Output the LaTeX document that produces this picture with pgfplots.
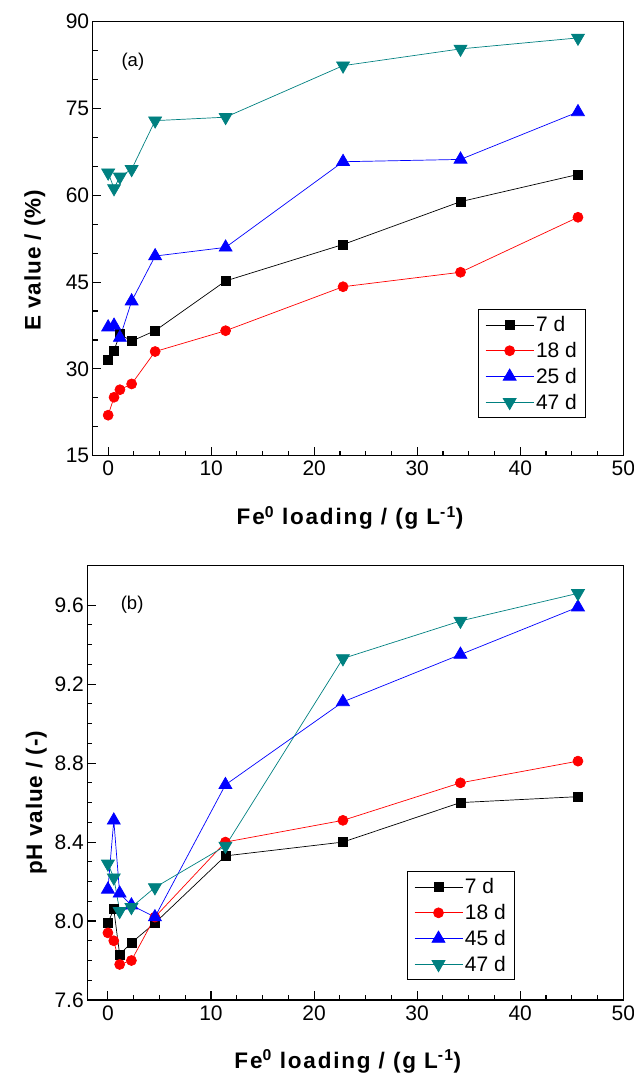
\documentclass[border=0pt]{standalone}
\usepackage{fontspec}
\setmainfont{Liberation Sans}
\newfontfamily\xlblfont[LetterSpace=8]{Liberation Sans}
\newfontfamily\ylblfont[LetterSpace=4]{Liberation Sans}
\usepackage{pgfplots}
\pgfplotsset{compat=1.18}
\definecolor{dcyan}{RGB}{0,128,128}

\begin{document}
\begin{tikzpicture}
\useasboundingbox (0pt,0pt) rectangle (634pt,1082pt);
\pgfplotsset{
  panel/.style={
    scale only axis,
    anchor=south west,
    tick pos=left, tick align=inside,
    major tick length=8.5pt, minor tick length=5pt,
    axis line style={line width=1.3pt},
    every tick/.style={line width=1.1pt, black},
    tick label style={font=\fontsize{21}{24}\selectfont},
    xticklabel style={yshift=-2pt},
    /pgf/number format/assume math mode=true,
    xlabel style={font=\xlblfont\bfseries\fontsize{22.5}{26}\selectfont},
    ylabel style={font=\ylblfont\bfseries\fontsize{22.5}{26}\selectfont},
    xmax=50, xtick={0,10,...,50}, minor x tick num=3,
    legend cell align=left,
    legend style={font=\fontsize{21}{26}\selectfont, draw=black, line width=0.8pt,
      anchor=south west, inner xsep=7pt, inner ysep=5pt, row sep=5pt,
      nodes={inner sep=2pt}},
    legend image code/.code={
      \draw[mark repeat=2,mark phase=2] plot coordinates {(0pt,0pt) (24pt,0pt) (48pt,0pt)};},
    every axis plot/.append style={line width=0.7pt},
  },
  s7/.style={black, mark=square*, mark size=4.5pt, mark options={solid,fill=black}},
  s18/.style={red, mark=*, mark size=5pt, mark options={solid,fill=red}},
  s25/.style={blue, mark=triangle*, mark size=7.5pt, mark options={solid,fill=blue}},
  s47/.style={dcyan, mark=triangle*, mark size=7.5pt, mark options={solid,fill=dcyan,rotate=180}},
}

% (a) E value
\begin{axis}[panel,
  at={(92.7pt,626.3pt)}, width=530.6pt, height=434pt,
  xmin=-1.5, ymin=15, ymax=90,
  ytick={15,30,...,90}, minor y tick num=2,
  xlabel={Fe\textsuperscript{0} loading / (g L\textsuperscript{-1})},
  ylabel={E value / (\%)},
  xlabel style={at={(axis description cs:0.485,-0.143)}, anchor=center},
  ylabel style={at={(axis description cs:-0.109,0.45)}, anchor=center},
  legend style={at={(0.726,0.087)}},
]
\addplot[s7] coordinates {
  (0,31.6) (0.57,33.2) (1.14,36.0) (2.28,34.8) (4.56,36.6) (11.4,45.2) (22.8,51.5) (34.2,58.9) (45.6,63.6)};
\addplot[s18] coordinates {
  (0,22.0) (0.57,25.1) (1.14,26.4) (2.28,27.4) (4.56,33.0) (11.4,36.6) (22.8,44.2) (34.2,46.7) (45.6,56.2)};
\addplot[s25] coordinates {
  (0,37.2) (0.57,37.5) (1.14,35.4) (2.28,41.7) (4.56,49.5) (11.4,51.0) (22.8,65.8) (34.2,66.2) (45.6,74.4)};
\addplot[s47] coordinates {
  (0,63.9) (0.57,61.2) (1.14,63.2) (2.28,64.5) (4.56,72.9) (11.4,73.5) (22.8,82.4) (34.2,85.3) (45.6,87.2)};
\legend{7 d, 18 d, 25 d, 47 d}
\node[font=\fontsize{18.5}{22}\selectfont] at (axis cs:2.4,83) {(a)};
\end{axis}

% (b) pH value
\begin{axis}[panel,
  at={(87.3pt,82pt)}, width=536pt, height=434.3pt,
  xmin=-2, ymin=7.6, ymax=9.8,
  ytick={7.6,8.0,...,9.6}, minor y tick num=3,
  yticklabel style={/pgf/number format/.cd, fixed, fixed zerofill, precision=1},
  xlabel={Fe\textsuperscript{0} loading / (g L\textsuperscript{-1})},
  ylabel={pH value / (-)},
  xlabel style={at={(axis description cs:0.486,-0.141)}, anchor=center},
  ylabel style={at={(axis description cs:-0.095,0.454)}, anchor=center},
  legend style={at={(0.596,0.046)}},
]
\addplot[s7] coordinates {
  (0,7.99) (0.57,8.06) (1.14,7.83) (2.28,7.89) (4.56,7.99) (11.4,8.33) (22.8,8.40) (34.2,8.60) (45.6,8.63)};
\addplot[s18] coordinates {
  (0,7.94) (0.57,7.90) (1.14,7.78) (2.28,7.80) (4.56,8.02) (11.4,8.40) (22.8,8.51) (34.2,8.70) (45.6,8.81)};
\addplot[s25] coordinates {
  (0,8.16) (0.57,8.51) (1.14,8.14) (2.28,8.08) (4.56,8.02) (11.4,8.69) (22.8,9.11) (34.2,9.35) (45.6,9.59)};
\addplot[s47] coordinates {
  (0,8.29) (0.57,8.22) (1.14,8.05) (2.28,8.07) (4.56,8.17) (11.4,8.38) (22.8,9.33) (34.2,9.52) (45.6,9.66)};
\legend{7 d, 18 d, 45 d, 47 d}
\node[font=\fontsize{18.5}{22}\selectfont] at (axis cs:2.35,9.6) {(b)};
\end{axis}
\end{tikzpicture}
\end{document}
